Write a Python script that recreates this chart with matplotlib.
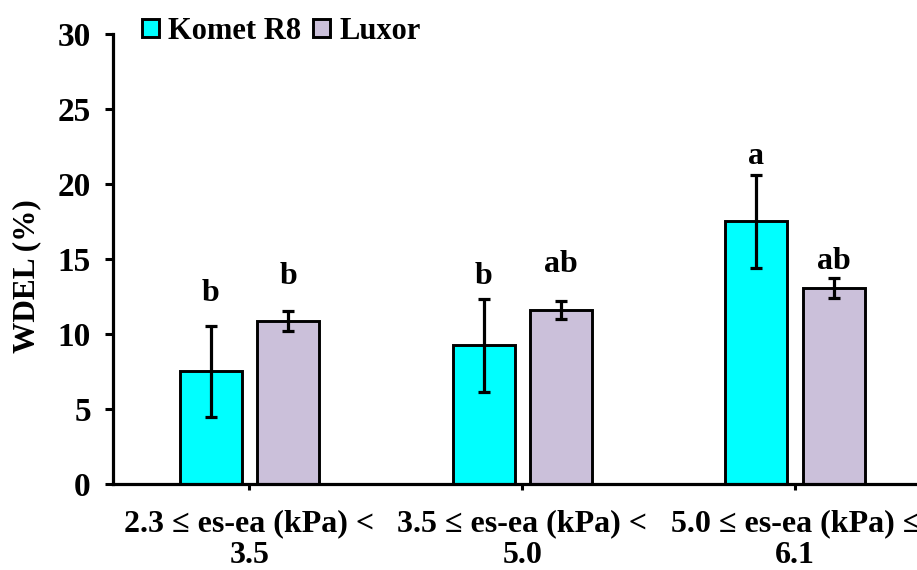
import matplotlib
matplotlib.use('Agg')
import matplotlib.pyplot as plt
import numpy as np

# data
groups = ['2.3 \u2264 es-ea (kPa) <\n3.5', '3.5 \u2264 es-ea (kPa) <\n5.0', '5.0 \u2264 es-ea (kPa) \u2264\n6.1']
komet = [7.5, 9.25, 17.5]
komet_err = [3.05, 3.1, 3.07]
luxor = [10.87, 11.6, 13.05]
luxor_err = [0.65, 0.62, 0.67]
komet_letters = ['b', 'b', 'a']
luxor_letters = ['b', 'ab', 'ab']
komet_letter_y = [12.7, 13.8, 21.8]
luxor_letter_y = [13.8, 14.6, 14.8]

plt.rcParams['font.family'] = ['Liberation Serif', 'DejaVu Serif']
plt.rcParams['font.weight'] = 'bold'

fig = plt.figure(figsize=(9.17, 5.70), dpi=100)
ax = fig.add_axes([0.1232, 0.1509, 0.877, 0.7895])

x = np.arange(len(groups))
w = 0.227
off = 0.142
err_kw = dict(ecolor='black', elinewidth=2.3, capsize=4.5, capthick=2.3)
ax.bar(x - off, komet, w, yerr=komet_err, color='#00FFFF', edgecolor='black',
       linewidth=2.1, label='Komet R8', error_kw=err_kw)
ax.bar(x + off, luxor, w, yerr=luxor_err, color='#CBC0DA', edgecolor='black',
       linewidth=2.1, label='Luxor', error_kw=err_kw)

for i in range(len(groups)):
    ax.text(x[i] - off, komet_letter_y[i], komet_letters[i], ha='center', va='center',
            fontsize=23, fontweight='bold')
    ax.text(x[i] + off, luxor_letter_y[i], luxor_letters[i], ha='center', va='center',
            fontsize=23, fontweight='bold')

ax.set_xlim(-0.5, 2.447)
ax.set_ylim(0, 30)
ax.set_yticks(range(0, 31, 5))
ax.set_xticks(x)
ax.set_xticklabels(groups, fontsize=23, fontweight='bold', linespacing=1.15)
ax.tick_params(axis='y', labelsize=24, length=6, width=2.2, pad=10, direction='out')
ax.tick_params(axis='x', length=4, width=2.2, pad=14, direction='out')
ax.spines['top'].set_visible(False)
ax.spines['right'].set_visible(False)
ax.spines['left'].set_linewidth(2.3)
ax.spines['bottom'].set_linewidth(2.3)

ax.set_ylabel('WDEL (%)', fontsize=22.5, fontweight='bold')
ax.yaxis.set_label_coords(-0.089, 0.462)

ax.legend(loc='upper left', bbox_to_anchor=(0.021, 1.065), ncol=2, frameon=False,
          fontsize=22, handlelength=0.55, handleheight=0.55, handletextpad=0.3,
          columnspacing=0.4, borderaxespad=0)

fig.savefig('out.png', dpi=100)
